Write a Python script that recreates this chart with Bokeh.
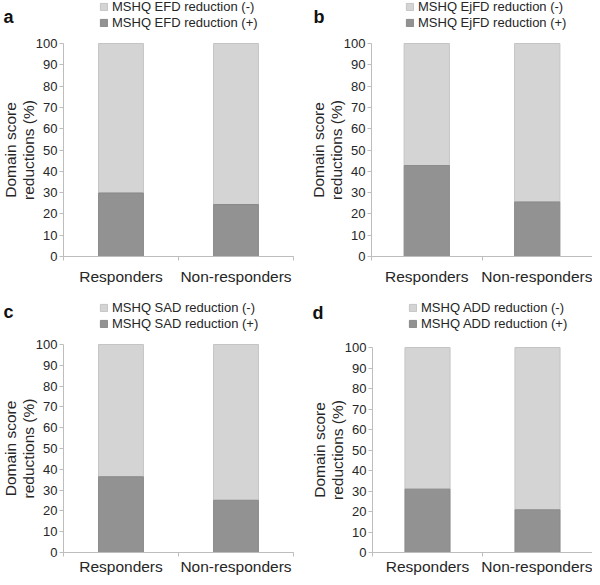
from bokeh.plotting import figure
from bokeh.layouts import column, row
from bokeh.models import ColumnDataSource, FixedTicker, Legend, LegendItem, Label, Range1d
from bokeh.embed import file_html
from bokeh.resources import INLINE

# ---- data ----
categories = ["Responders", "Non-responders"]
panel_letters = ["a", "b", "c", "d"]
domains = ["EFD", "EjFD", "SAD", "ADD"]
reduction_pos = [
    [29.8, 24.4],
    [42.7, 25.6],
    [36.4, 25.1],
    [30.9, 20.8],
]
y_ticks = [0, 10, 20, 30, 40, 50, 60, 70, 80, 90, 100]
y_label = "Domain score\nreductions (%)"

FONT = "Liberation Sans"
LIGHT = "#d4d4d4"
DARK = "#929292"
AXIS = "#bdbdbd"
TXT = "#262626"


def make_panel(i, width, height, pad_l, pad_r, pad_t, pad_b, bar_w,
               x_standoff, leg_x, leg_y, let_x, let_y):
    n = len(categories)
    ppx = (width - pad_l - pad_r) / n
    ppy = (height - pad_t - pad_b) / 100.0
    p = figure(width=width, height=height, output_backend="svg",
               toolbar_location=None,
               x_range=Range1d(-pad_l / ppx, n + pad_r / ppx),
               y_range=Range1d(-pad_b / ppy, 100 + pad_t / ppy),
               min_border=0)
    xs = [k + 0.5 for k in range(n)]
    pos = reduction_pos[i]
    src = ColumnDataSource(dict(x=xs, pos=pos, full=[100] * len(pos)))
    r_neg = p.vbar(x="x", bottom="pos", top="full", width=bar_w, source=src,
                   fill_color=LIGHT, line_color="#c4c4c4", line_width=1)
    r_pos = p.vbar(x="x", bottom=0, top="pos", width=bar_w, source=src,
                   fill_color=DARK, line_color="#8a8a8a", line_width=1)

    p.grid.visible = False
    p.outline_line_color = None
    p.background_fill_color = "white"
    p.border_fill_color = "white"

    ya = p.yaxis[0]
    ya.fixed_location = 0
    ya.bounds = (0, 100)
    ya.ticker = FixedTicker(ticks=y_ticks)
    ya.axis_line_color = AXIS
    ya.major_tick_line_color = AXIS
    ya.major_tick_in = 0
    ya.major_tick_out = 4
    ya.minor_tick_line_color = None
    ya.minor_tick_in = 0
    ya.minor_tick_out = 0
    ya.major_label_text_font = FONT
    ya.major_label_text_font_size = "13px"
    ya.major_label_text_color = TXT
    ya.major_label_standoff = 2
    ya.axis_label = y_label
    ya.axis_label_text_font = FONT
    ya.axis_label_text_font_size = "15.5px"
    ya.axis_label_text_font_style = "normal"
    ya.axis_label_text_color = TXT
    ya.axis_label_text_line_height = 1.05
    ya.axis_label_standoff = -4

    xa = p.xaxis[0]
    xa.fixed_location = 0
    xa.bounds = (0, n)
    xa.ticker = FixedTicker(ticks=xs, minor_ticks=list(range(n + 1)))
    xa.major_label_overrides = {x: c for x, c in zip(xs, categories)}
    xa.axis_line_color = AXIS
    xa.major_tick_line_color = None
    xa.major_tick_in = 0
    xa.major_tick_out = 0
    xa.minor_tick_line_color = AXIS
    xa.minor_tick_in = 0
    xa.minor_tick_out = 4
    xa.major_label_text_font = FONT
    xa.major_label_text_font_size = "15.5px"
    xa.major_label_text_color = TXT
    xa.major_label_standoff = x_standoff

    legend = Legend(items=[
        LegendItem(label="MSHQ %s reduction (-)" % domains[i], renderers=[r_neg]),
        LegendItem(label="MSHQ %s reduction (+)" % domains[i], renderers=[r_pos]),
    ], location=(leg_x, leg_y))
    legend.label_text_font = FONT
    legend.label_text_font_size = "13px"
    legend.label_text_color = TXT
    legend.label_height = 15
    legend.glyph_height = 9
    legend.glyph_width = 9
    legend.label_standoff = 4
    legend.spacing = 1
    legend.padding = 0
    legend.margin = 0
    legend.border_line_color = None
    legend.background_fill_alpha = 0
    p.add_layout(legend)

    p.add_layout(Label(x=let_x, y=let_y, x_units="screen", y_units="screen",
                       text=panel_letters[i], text_font=FONT,
                       text_font_size="18px", text_font_style="bold",
                       text_color="#111111", text_baseline="alphabetic"))
    return p


#                  i  w    h    padL padR padT padB bar  xstd legx legy letx lety
pa = make_panel(0, 300, 287, 63, 7, 43, 31, 0.39, 7, 99, 257, 3, 271)
pb = make_panel(1, 292, 287, 71, 0, 43, 31, 0.41, 7, 105, 257, 13, 271)
pc = make_panel(2, 300, 290, 63, 7, 57, 25, 0.39, 1, 99, 246, 3, 266)
pd = make_panel(3, 292, 290, 72, 0, 60, 25, 0.41, 1, 108, 246, 12, 265)

layout = column(row(pa, pb), row(pc, pd))
open("out.html", "w").write(file_html(layout, INLINE))
